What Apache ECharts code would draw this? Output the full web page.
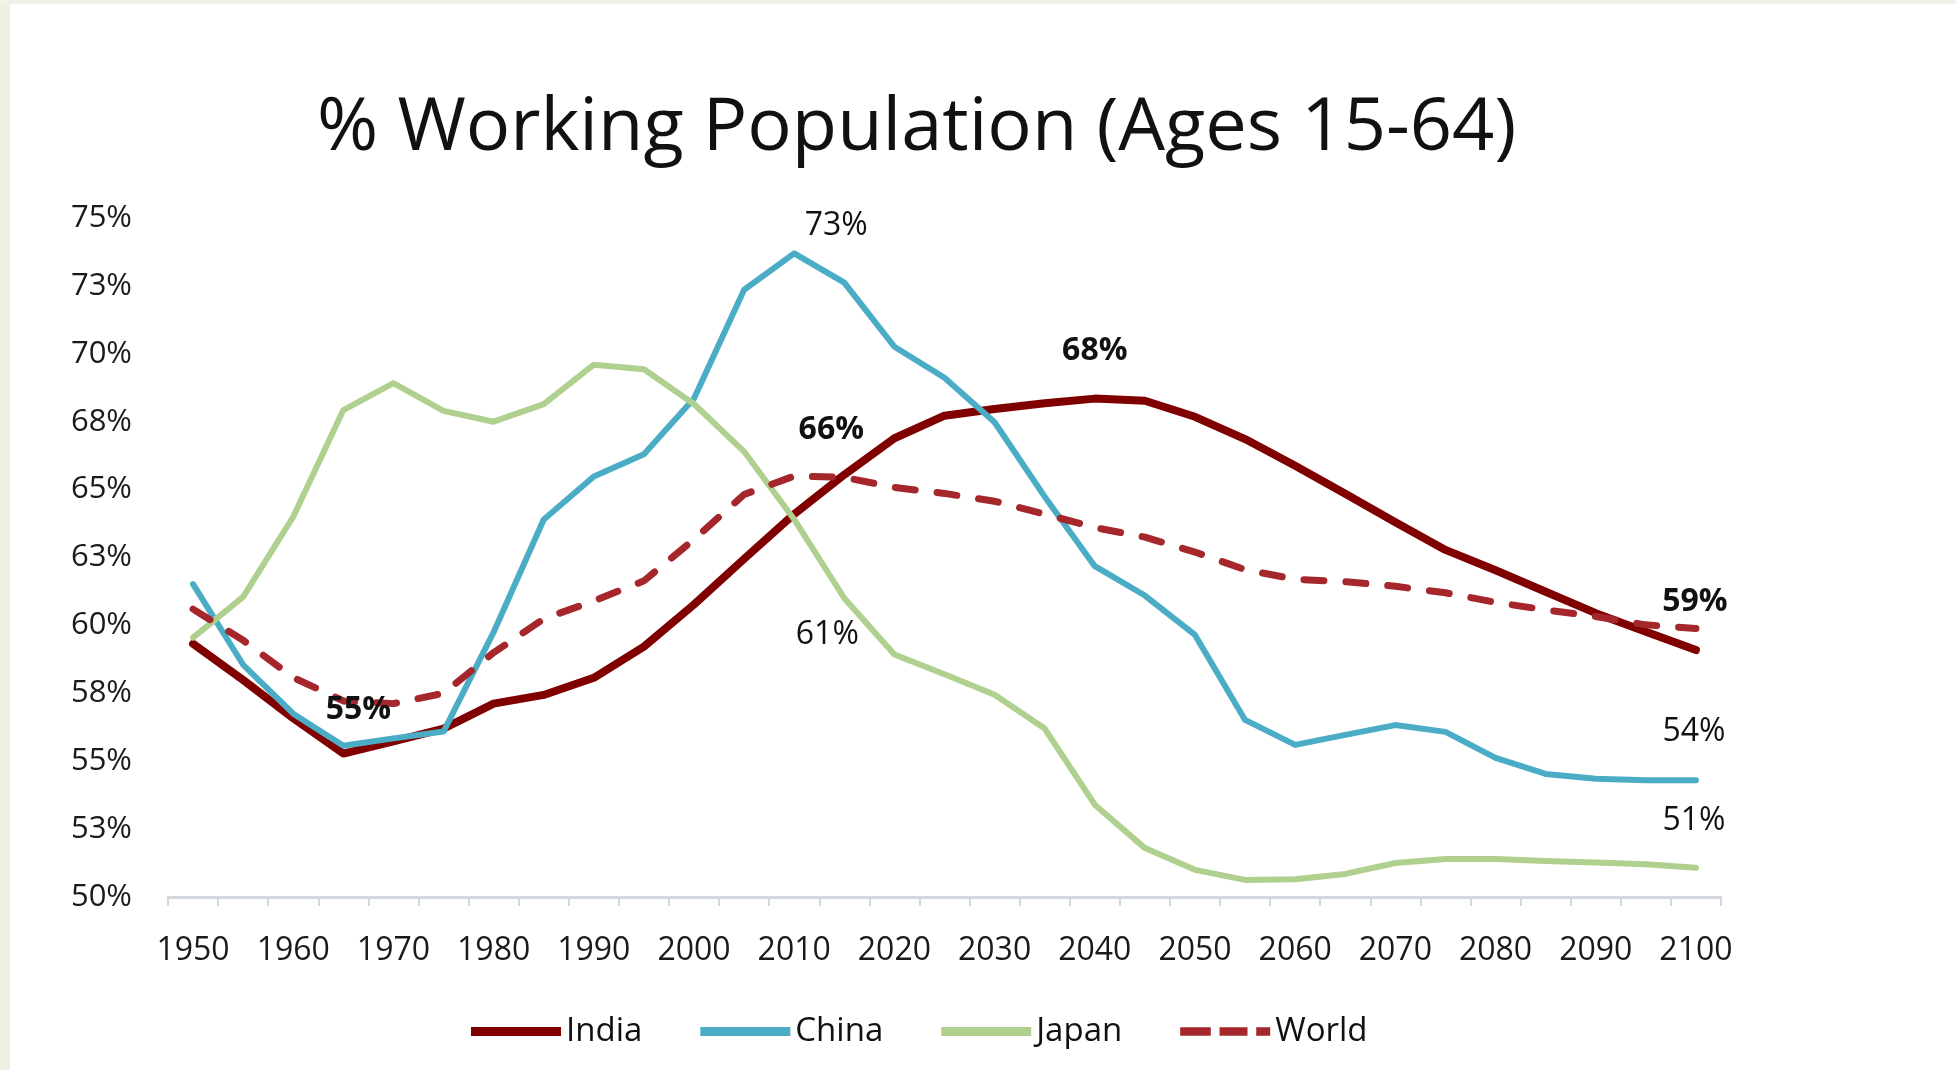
<!DOCTYPE html>
<html>
<head>
<meta charset="utf-8">
<script src="https://cdn.jsdelivr.net/npm/echarts@6/dist/echarts.min.js"></script>
<style>
  html, body { margin: 0; padding: 0; background: #ffffff; }
  #chart { width: 1956px; height: 1070px; }
</style>
</head>
<body>
<div id="chart"></div>
<script>
// ---------------- DATA ----------------
const years = ['1950','1955','1960','1965','1970','1975','1980','1985','1990','1995','2000','2005','2010','2015','2020','2025','2030','2035','2040','2045','2050','2055','2060','2065','2070','2075','2080','2085','2090','2095','2100'];

const india = [59.32, 57.99, 56.58, 55.28, 55.73, 56.2, 57.12, 57.44, 58.07, 59.22, 60.77, 62.45, 64.1, 65.55, 66.89, 67.72, 67.97, 68.18, 68.35, 68.27, 67.68, 66.86, 65.88, 64.85, 63.8, 62.78, 62.03, 61.24, 60.45, 59.77, 59.09];
const china = [61.52, 58.55, 56.75, 55.57, 55.84, 56.09, 59.75, 63.9, 65.48, 66.3, 68.35, 72.36, 73.7, 72.62, 70.26, 69.12, 67.48, 64.74, 62.18, 61.1, 59.65, 56.52, 55.6, 55.97, 56.33, 56.08, 55.12, 54.53, 54.35, 54.3, 54.3];
const japan = [59.55, 61.05, 64.0, 67.93, 68.92, 67.9, 67.5, 68.15, 69.6, 69.43, 68.15, 66.4, 63.9, 61.0, 58.93, 58.2, 57.45, 56.2, 53.4, 51.8, 51.0, 50.63, 50.65, 50.85, 51.25, 51.4, 51.4, 51.33, 51.27, 51.21, 51.08];
const world = [60.6, 59.45, 58.08, 57.22, 57.12, 57.5, 59.0, 60.24, 60.9, 61.64, 63.17, 64.82, 65.5, 65.45, 65.08, 64.86, 64.57, 64.1, 63.6, 63.25, 62.7, 62.05, 61.7, 61.61, 61.44, 61.2, 60.85, 60.57, 60.33, 60.02, 59.89];

const seriesNames = ['India', 'China', 'Japan', 'World'];
const yTickLabels = ['50%','53%','55%','58%','60%','63%','65%','68%','70%','73%','75%'];

// data labels shown in the chart: series, year, text
const labelSeries = ['India', 'China', 'India', 'Japan', 'India', 'India', 'China', 'Japan'];
const labelYears  = ['1965', '2010', '2015', '2015', '2040', '2100', '2100', '2100'];
const labelTexts  = ['55%', '73%', '66%', '61%', '68%', '59%', '54%', '51%'];

// ---------------- STYLE ----------------
const FONT = '"Open Sans", "Noto Sans", sans-serif';
const colors = { India: '#800000', China: '#4BACC6', Japan: '#AFD08E', World: '#A5262B' };
// label styling (offset from point, weight) keyed by label index
const labelStyle = [
  { offset: [15, -44], bold: true },
  { offset: [42, -27], bold: false },
  { offset: [-13, -45], bold: true },
  { offset: [-17, 37], bold: false },
  { offset: [0, -48], bold: true },
  { offset: [-1, -48], bold: true },
  { offset: [-2, -48], bold: false },
  { offset: [-2, -47], bold: false }
];

const values = { India: india, China: china, Japan: japan, World: world };

function buildData(name) {
  return values[name].map((v, i) => {
    const item = { value: v };
    for (let k = 0; k < labelTexts.length; k++) {
      if (labelSeries[k] === name && labelYears[k] === years[i]) {
        item.label = {
          show: true,
          formatter: labelTexts[k],
          position: 'inside',
          offset: labelStyle[k].offset,
          fontFamily: FONT,
          fontSize: 32,
          fontWeight: labelStyle[k].bold ? 'bold' : 'normal',
          color: '#111'
        };
      }
    }
    return item;
  });
}

const lineWidths = { India: 8, China: 6, Japan: 6, World: 7 };

const series = seriesNames.map(name => ({
  name: name,
  type: 'line',
  data: buildData(name),
  symbol: 'circle',
  symbolSize: 0.01,
  showSymbol: true,
  showAllSymbol: true,
  itemStyle: { color: colors[name] },
  lineStyle: {
    color: colors[name],
    width: lineWidths[name],
    type: name === 'World' ? [20, 22] : 'solid',
    cap: 'round',
    join: 'round'
  },
  label: { show: false },
  emphasis: { disabled: true },
  z: 2
}));

const solidIcon = 'path://M0,0h100v10h-100z';
const dashIcon = 'path://M0,0h35v10h-35z M45,0h32v10h-32z M87,0h16v10h-16z';

const chart = echarts.init(document.getElementById('chart'), null, { renderer: 'canvas' });
chart.setOption({
  animation: false,
  backgroundColor: '#ffffff',
  textStyle: { fontFamily: FONT },
  title: {
    text: '% Working Population (Ages 15-64)',
    left: 312,
    top: 87,
    textStyle: { fontFamily: FONT, fontSize: 74, fontWeight: 'normal', color: '#111' }
  },
  graphic: [
    { type: 'rect', left: 0, top: 0, shape: { width: 10, height: 1070 }, style: { fill: '#EEF1E2' }, silent: true },
    { type: 'rect', left: 0, top: 0, shape: { width: 1956, height: 4 }, style: { fill: '#F1F3E8' }, silent: true }
  ],
  legend: {
    left: 466,
    top: 1010,
    itemWidth: 90,
    itemHeight: 10,
    itemGap: 58,
    textStyle: { fontFamily: FONT, fontSize: 33, color: '#111' },
    data: [
      { name: 'India', icon: solidIcon },
      { name: 'China', icon: solidIcon },
      { name: 'Japan', icon: solidIcon },
      { name: 'World', icon: dashIcon }
    ]
  },
  grid: { left: 168, right: 235, top: 218, bottom: 173, containLabel: false },
  xAxis: {
    type: 'category',
    data: years,
    boundaryGap: true,
    axisLine: { show: true, lineStyle: { color: '#D3D8DF', width: 3 } },
    axisTick: { show: true, interval: 0, length: 9, lineStyle: { color: '#D3D8DF', width: 2 } },
    axisLabel: { interval: 1, margin: 38, fontFamily: FONT, fontSize: 32, color: '#1a1a1a' },
    splitLine: { show: false }
  },
  yAxis: {
    type: 'value',
    min: 50,
    max: 75,
    interval: 2.5,
    axisLine: { show: false },
    axisTick: { show: false },
    splitLine: { show: false },
    axisLabel: {
      margin: 36,
      fontFamily: FONT,
      fontSize: 31,
      color: '#1a1a1a',
      formatter: function (v) { return yTickLabels[Math.round((v - 50) / 2.5)]; }
    }
  },
  series: series
});
</script>
</body>
</html>
